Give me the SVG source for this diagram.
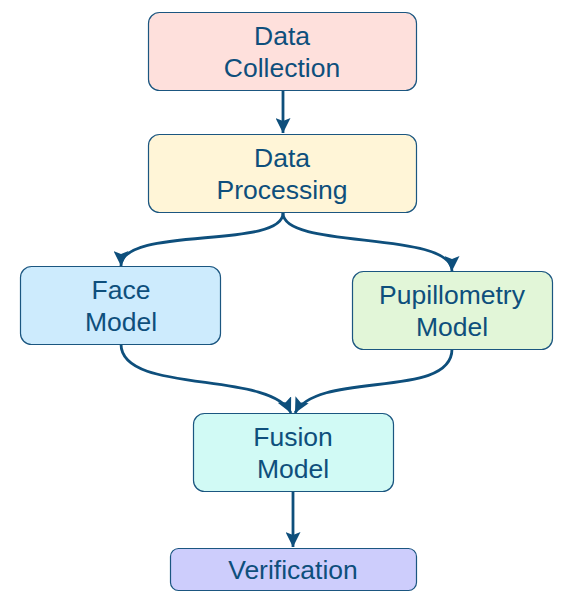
<svg xmlns="http://www.w3.org/2000/svg" width="573" height="615" viewBox="0 0 573 615">
<style>
.box{stroke:#1b5680;stroke-width:1.2}
.lbl{font-family:"Liberation Sans",Arial,sans-serif;font-size:26.5px;fill:#0e4f7c;text-anchor:middle}
.edge{fill:none;stroke:#0e4f7c;stroke-width:2.8}
</style>
<defs>
<marker id="ah" markerWidth="15" markerHeight="15" viewBox="0 0 15 15" refX="15" refY="7.5" orient="auto" markerUnits="userSpaceOnUse">
<path d="M0,0 L15,7.5 L0,15 L3,7.5 Z" fill="#0e4f7c"/>
</marker>
</defs>
<rect width="573" height="615" fill="#ffffff"/>
<g id="connectors">
<path class="edge" d="M283,90 L283,133" marker-end="url(#ah)"/>
<path class="edge" d="M283,213 C283,250 121,225 121,266" marker-end="url(#ah)"/>
<path class="edge" d="M283,213 C283,250 452,230 452,271" marker-end="url(#ah)"/>
<path class="edge" d="M121,344 C121,395 270,370 291,413" marker-end="url(#ah)"/>
<path class="edge" d="M452,349 C452,400 318,370 295,413" marker-end="url(#ah)"/>
<path class="edge" d="M293,491 L293,547" marker-end="url(#ah)"/>
</g>
<g id="data-collection">
<rect class="box" x="148.5" y="12.5" width="268" height="78" rx="11" fill="#fee0dc"/>
<text class="lbl" x="282" y="45">Data</text>
<text class="lbl" x="282" y="77">Collection</text>
</g>
<g id="data-processing">
<rect class="box" x="148.5" y="134.5" width="268" height="78" rx="11" fill="#fff5d7"/>
<text class="lbl" x="282" y="167">Data</text>
<text class="lbl" x="282" y="199">Processing</text>
</g>
<g id="face-model">
<rect class="box" x="20.5" y="266.5" width="200" height="78" rx="11" fill="#cdebfd"/>
<text class="lbl" x="121" y="299">Face</text>
<text class="lbl" x="121" y="331">Model</text>
</g>
<g id="pupillometry-model">
<rect class="box" x="352.5" y="271.5" width="200" height="78" rx="11" fill="#e2f6d8"/>
<text class="lbl" x="452" y="304">Pupillometry</text>
<text class="lbl" x="452" y="336">Model</text>
</g>
<g id="fusion-model">
<rect class="box" x="193.5" y="413.5" width="200" height="78" rx="11" fill="#d1faf5"/>
<text class="lbl" x="293" y="446">Fusion</text>
<text class="lbl" x="293" y="478">Model</text>
</g>
<g id="verification">
<rect class="box" x="170.5" y="548.5" width="246" height="42" rx="8" fill="#cdcdfc"/>
<text class="lbl" x="293" y="579">Verification</text>
</g>
</svg>
